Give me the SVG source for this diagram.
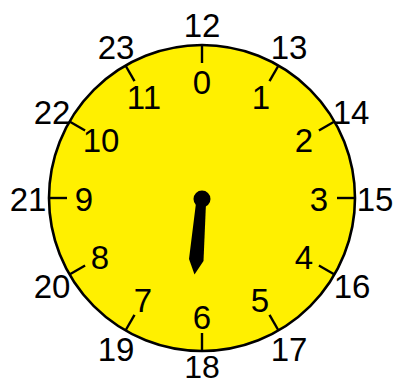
<svg xmlns="http://www.w3.org/2000/svg" width="393" height="385" viewBox="0 0 393 385">
<style>
text{font-family:"Liberation Sans","DejaVu Sans",sans-serif;font-size:33px;fill:#000;text-anchor:middle}
.tick{stroke:#000;stroke-width:2.4}
</style>
<g id="face">
<circle cx="202" cy="198" r="153" fill="#fff000" stroke="#000" stroke-width="2.6"/>
</g>
<g id="ticks">
<line class="tick" x1="202" y1="45" x2="202" y2="63"/>
<line class="tick" x1="278.5" y1="65.5" x2="269.5" y2="81.1"/>
<line class="tick" x1="334.5" y1="121.5" x2="318.9" y2="130.5"/>
<line class="tick" x1="355" y1="198" x2="337" y2="198"/>
<line class="tick" x1="334.5" y1="274.5" x2="318.9" y2="265.5"/>
<line class="tick" x1="278.5" y1="330.5" x2="269.5" y2="314.9"/>
<line class="tick" x1="202" y1="351" x2="202" y2="333"/>
<line class="tick" x1="125.5" y1="330.5" x2="134.5" y2="314.9"/>
<line class="tick" x1="69.5" y1="274.5" x2="85.1" y2="265.5"/>
<line class="tick" x1="49" y1="198" x2="67" y2="198"/>
<line class="tick" x1="69.5" y1="121.5" x2="85.1" y2="130.5"/>
<line class="tick" x1="125.5" y1="65.5" x2="134.5" y2="81.1"/>
</g>
<g id="inner-labels">
<text x="202" y="94">0</text>
<text x="261" y="109">1</text>
<text x="304" y="152">2</text>
<text x="319" y="211">3</text>
<text x="304" y="269">4</text>
<text x="260" y="312">5</text>
<text x="202" y="329">6</text>
<text x="143" y="312">7</text>
<text x="100" y="269">8</text>
<text x="84" y="211">9</text>
<text x="101" y="152">10</text>
<text x="144" y="109">11</text>
</g>
<g id="outer-labels">
<text x="202" y="37">12</text>
<text x="289" y="59">13</text>
<text x="351" y="124">14</text>
<text x="375" y="211">15</text>
<text x="352" y="298">16</text>
<text x="289" y="361">17</text>
<text x="202" y="378" style="font-size:32px">18</text>
<text x="116" y="361">19</text>
<text x="52" y="298">20</text>
<text x="28" y="211">21</text>
<text x="52" y="124">22</text>
<text x="116" y="59">23</text>
</g>
<g id="hand">
<circle cx="202" cy="199" r="8.5" fill="#000"/>
<polygon points="196,203 206,203 203.5,261 194.5,274.5 189,259" fill="#000"/>
</g>
</svg>
